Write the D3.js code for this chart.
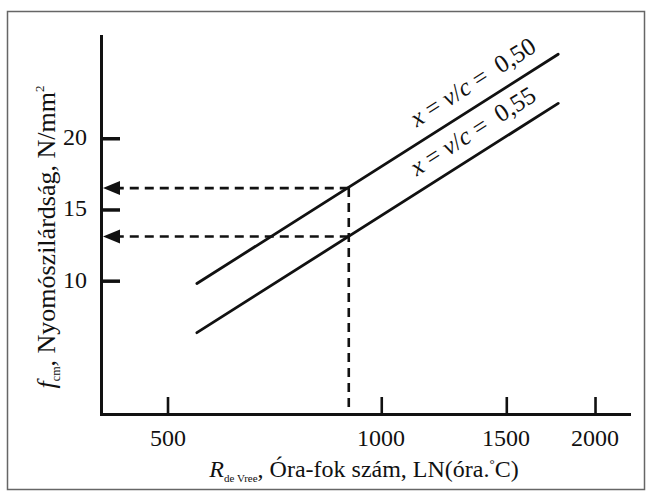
<!DOCTYPE html>
<html>
<head>
<meta charset="utf-8">
<script src="https://cdn.jsdelivr.net/npm/d3@7"></script>
<style>
  html, body { margin: 0; padding: 0; background: #fff; }
  #wrap { position: relative; width: 651px; height: 491px; overflow: hidden; }
  #wrap svg { position: absolute; left: 0; top: 0; display: block; }
</style>
</head>
<body>
<div id="wrap"></div>
<script>
// Maturity (degree-hour) method: compressive strength vs. de Vree maturity number
const xTicks = [500, 1000, 1500, 2000];
const yTicks = [10, 15, 20];
const lineX = [550, 1775];            // maturity (LN, hour·°C) at line ends
const strength050 = [9.8, 25.9];      // f_cm for w/c = 0,50
const strength055 = [6.35, 22.45];    // f_cm for w/c = 0,55
const seriesLabels = ["0,50", "0,55"];
const readX = 900;                    // maturity read-off value
const readY = [16.5, 13.1];           // corresponding strengths

const FONT = '"Liberation Serif", "Times New Roman", Times, serif';
const INK = "#111";
const BASE = 16;   // glyphs are laid out at this size, then scaled up

const wrap = d3.select("#wrap");
const svg = wrap.append("svg").attr("width", 651).attr("height", 491);
const layer = wrap.append("div")
  .style("position", "absolute").style("left", "0").style("top", "0")
  .style("width", "651px").style("height", "491px");

// text anchored at its baseline point (px,py), rotated by ang, effective size `size` px
function label(px, py, ang, size, anchor) {
  const k = size / BASE;
  const outer = layer.append("div")
    .style("position", "absolute").style("left", px + "px").style("top", py + "px")
    .style("transform-origin", "0 0")
    .style("transform", `rotate(${ang}deg) scale(${k})`);
  const shift = anchor === "middle" ? "-50%" : anchor === "end" ? "-100%" : "0";
  const inner = outer.append("div")
    .style("position", "absolute").style("left", "0").style("top", "0")
    .style("white-space", "pre")
    .style("font-family", FONT).style("font-size", BASE + "px")
    .style("line-height", BASE + "px").style("color", INK)
    .style("transform", `translate(${shift}, ${-0.84 * BASE}px)`);
  inner.k = k;
  return inner;
}
function piece(parent, txt, opt = {}) {
  const s = parent.append("span").text(txt);
  if (opt.italic) s.style("font-style", "italic");
  if (opt.size) s.style("font-size", (opt.size / parent.k) + "px");
  if (opt.shift) s.style("position", "relative").style("top", (opt.shift / parent.k) + "px");
  return s;
}

// outer frame
svg.append("rect")
  .attr("x", 7.5).attr("y", 11.5)
  .attr("width", 637).attr("height", 478)
  .attr("fill", "none").attr("stroke", "#666").attr("stroke-width", 1.5);

const x = d3.scaleLog().domain([403, 2233]).range([101, 629]);
const y = d3.scaleLinear().domain([0.64, 27.18]).range([414, 36]);
const axisY = y.range()[0], axisX = x.range()[0];

// x axis with inward ticks
const xAxis = svg.append("g")
  .attr("transform", `translate(0,${axisY})`)
  .call(d3.axisBottom(x).tickValues(xTicks).tickFormat(() => "")
    .tickSizeInner(-17).tickSizeOuter(0));
xAxis.select(".domain").attr("stroke", INK).attr("stroke-width", 3).attr("stroke-linecap", "square");
xAxis.selectAll(".tick line").attr("stroke", INK).attr("stroke-width", 2.6);
xAxis.selectAll(".tick text").remove();
xTicks.forEach(v => label(x(v), axisY + 33, 0, 24, "middle").text(d3.format("d")(v)));

// y axis with inward ticks
const yAxis = svg.append("g")
  .attr("transform", `translate(${axisX},0)`)
  .call(d3.axisLeft(y).tickValues(yTicks).tickFormat(() => "")
    .tickSizeInner(-19).tickSizeOuter(0));
yAxis.select(".domain").attr("stroke", INK).attr("stroke-width", 3).attr("stroke-linecap", "square");
yAxis.selectAll(".tick line").attr("stroke", INK).attr("stroke-width", 3.5);
yAxis.selectAll(".tick text").remove();
yTicks.forEach(v => label(axisX - 14, y(v) + 8, 0, 24, "end").text(d3.format("d")(v)));

// strength lines
const series = [strength050, strength055];
const line = d3.line().x(d => x(d[0])).y(d => y(d[1]));
series.forEach((vals, i) => {
  const pts = lineX.map((v, k) => [v, vals[k]]);
  svg.append("path")
    .attr("d", line(pts))
    .attr("fill", "none").attr("stroke", INK).attr("stroke-width", 2.8)
    .attr("stroke-linecap", "round");

  // label along the line
  const x0 = x(lineX[0]), y0 = y(vals[0]);
  const x1 = x(lineX[1]), y1 = y(vals[1]);
  const ang = Math.atan2(y1 - y0, x1 - x0) * 180 / Math.PI;
  const t = 0.61;
  const lbl = label(x0 + t * (x1 - x0), y0 + t * (y1 - y0) - 16, ang, 25, "start");
  piece(lbl, "x", { italic: true });
  piece(lbl, " = ");
  piece(lbl, "v", { italic: true });
  piece(lbl, "/");
  piece(lbl, "c", { italic: true });
  piece(lbl, " =  " + seriesLabels[i]);
});

// read-off construction: dashed vertical and horizontal arrows
const dash = "9,6";
svg.append("line")
  .attr("x1", x(readX)).attr("x2", x(readX))
  .attr("y1", y(d3.max(readY))).attr("y2", axisY)
  .attr("stroke", INK).attr("stroke-width", 2.6).attr("stroke-dasharray", dash);

readY.forEach(v => {
  const yy = y(v);
  const tipX = axisX + 2;
  svg.append("line")
    .attr("x1", x(readX)).attr("x2", tipX + 14)
    .attr("y1", yy).attr("y2", yy)
    .attr("stroke", INK).attr("stroke-width", 2.6).attr("stroke-dasharray", dash);
  svg.append("path")
    .attr("d", `M${tipX},${yy} L${tipX + 17},${yy - 7} L${tipX + 17},${yy + 7} Z`)
    .attr("fill", INK);
});

// y axis title
{
  const t = label(56, 237, -90, 26, "middle");
  piece(t, "f", { italic: true });
  piece(t, "cm", { size: 12, shift: 5 });
  piece(t, ", Nyomószilárdság, N/mm");
  piece(t, "2", { size: 13, shift: -11 });
}

// x axis title
{
  const t = label(364, 478, 0, 24, "middle");
  piece(t, "R", { italic: true });
  piece(t, "de Vree", { size: 11, shift: 4 });
  piece(t, ", Óra-fok szám, LN(óra.");
  piece(t, "°", { size: 13, shift: -9 });
  piece(t, "C)");
}
</script>
</body>
</html>
